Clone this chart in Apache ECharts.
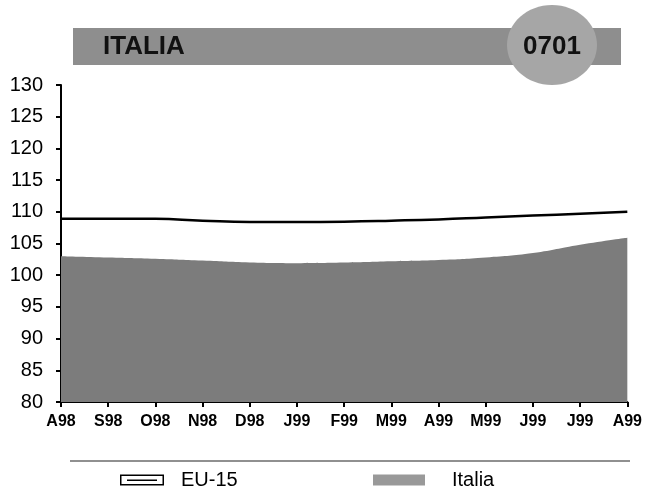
<!DOCTYPE html>
<html>
<head>
<meta charset="utf-8">
<script src="https://cdn.jsdelivr.net/npm/echarts@6/dist/echarts.min.js"></script>
<style>
html,body{margin:0;padding:0;background:#fff;}
#chart{width:645px;height:493px;}
</style>
</head>
<body>
<div id="chart"></div>
<script>
var categories = ['A98','S98','O98','N98','D98','J99','F99','M99','A99','M99','J99','J99','A99'];
var eu15 = [108.9,108.9,108.9,108.6,108.4,108.4,108.45,108.6,108.8,109.1,109.4,109.7,110.0];
var italia = [103.0,102.8,102.6,102.3,102.0,101.9,102.0,102.2,102.4,102.8,103.5,104.8,105.9];
var yTicks = [80,85,90,95,100,105,110,115,120,125,130];
var headerTitle = 'ITALIA';
var headerCode = '0701';

var chart = echarts.init(document.getElementById('chart'), null, {renderer:'canvas'});
var font = 'Liberation Sans, Arial, Helvetica, sans-serif';
var euIcon = 'path://M0,0 L44,0 L44,11 L0,11 Z M1.5,1.5 L1.5,9.5 L42.5,9.5 L42.5,1.5 Z M7,5 L37,5 L37,6.5 L7,6.5 Z';

chart.setOption({
  animation:false,
  backgroundColor:'#ffffff',
  grid:{left:61,right:17,top:85,bottom:91,containLabel:false},
  xAxis:{
    type:'category',
    data:categories,
    boundaryGap:false,
    axisLine:{lineStyle:{color:'#000',width:2}},
    axisTick:{show:true,length:5,lineStyle:{color:'#000',width:2},alignWithLabel:true},
    axisLabel:{color:'#000',fontFamily:font,fontWeight:'bold',fontSize:16,margin:12,interval:0},
    splitLine:{show:false}
  },
  yAxis:{
    type:'value',
    min:yTicks[0],
    max:yTicks[yTicks.length-1],
    interval:5,
    axisLine:{show:true,lineStyle:{color:'#000',width:2}},
    axisTick:{show:true,length:5,lineStyle:{color:'#000',width:2}},
    axisLabel:{color:'#000',fontFamily:font,fontSize:20,margin:18},
    splitLine:{show:false}
  },
  legend:[
    {
      left:115,
      top:465,
      itemWidth:44,
      itemHeight:11,
      textStyle:{color:'#000',fontFamily:font,fontSize:20,padding:[0,0,0,12]},
      data:[{name:'EU-15',icon:euIcon,itemStyle:{color:'#000'}}]
    },
    {
      left:368,
      top:465,
      itemWidth:52,
      itemHeight:11,
      textStyle:{color:'#000',fontFamily:font,fontSize:20,padding:[0,0,0,22]},
      data:[{name:'Italia',icon:'rect',itemStyle:{color:'#999999'}}]
    }
  ],
  graphic:[
    {type:'rect',shape:{x:73,y:28,width:548,height:37},style:{fill:'#8e8e8e'},z:10},
    {type:'ellipse',shape:{cx:552,cy:45,rx:45,ry:40},style:{fill:'#a6a6a6'},z:11},
    {type:'text',x:103,y:47,style:{text:headerTitle,fill:'#111',font:'bold 26px Liberation Sans, Arial, sans-serif',textVerticalAlign:'middle'},z:12},
    {type:'text',x:552,y:47,style:{text:headerCode,fill:'#111',font:'bold 26px Liberation Sans, Arial, sans-serif',textAlign:'center',textVerticalAlign:'middle'},z:12},
    {type:'line',shape:{x1:70,y1:461,x2:630,y2:461},style:{stroke:'#222',lineWidth:1.2},z:10}
  ],
  series:[
    {
      name:'Italia',
      type:'line',
      data:italia,
      smooth:true,
      symbol:'none',
      color:'#7c7c7c',
      lineStyle:{width:0,color:'#7c7c7c'},
      areaStyle:{color:'#7c7c7c',opacity:1,origin:'start'},
      z:2
    },
    {
      name:'EU-15',
      type:'line',
      data:eu15,
      smooth:true,
      symbol:'none',
      color:'#000',
      lineStyle:{width:2.5,color:'#000'},
      z:3
    }
  ]
});
</script>
</body>
</html>
